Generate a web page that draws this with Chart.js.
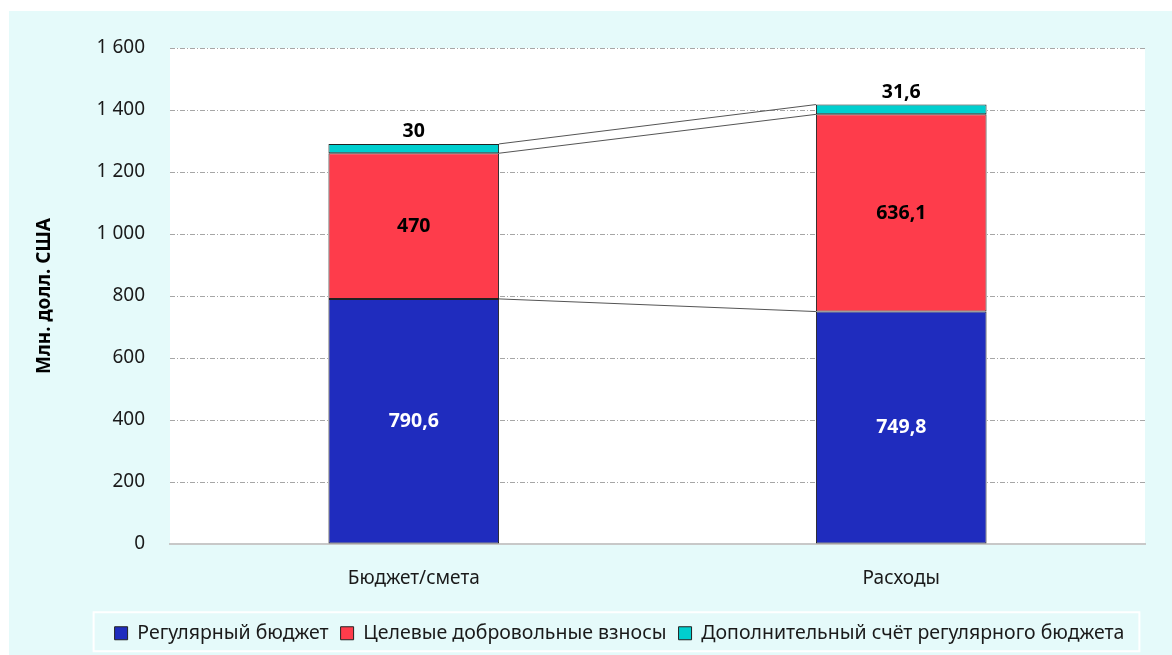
<!DOCTYPE html>
<html>
<head>
<meta charset="utf-8">
<script src="https://cdn.jsdelivr.net/npm/chart.js@4"></script>
<style>
  html, body { margin: 0; padding: 0; background: #ffffff; }
  #c { display: block; }
</style>
</head>
<body>
<canvas id="c" width="1172" height="655"></canvas>
<script>
// ---- data ----
const categories = ['Бюджет/смета', 'Расходы'];
const seriesNames = ['Регулярный бюджет', 'Целевые добровольные взносы', 'Дополнительный счёт регулярного бюджета'];
const regularBudget = [790.6, 749.8];
const voluntaryContrib = [470, 636.1];
const supplementaryAccount = [30, 31.6];
const yTickValues = [0, 200, 400, 600, 800, 1000, 1200, 1400, 1600];
const yAxisTitle = 'Млн. долл. США';

// ---- styles ----
const W = 1172, H = 655;
const FONT = "'Noto Sans', 'Open Sans', sans-serif";
const colors = ['#1F2CBE', '#FE3C4B', '#00CFCF'];
const PANEL = '#E5FAFA';
const TEXT = '#1a1a1a';
Chart.defaults.font.family = FONT;

const fmtTick = v => String(v).replace(/\B(?=(\d{3})+(?!\d))/g, ' ');
const fmtVal = v => String(v).replace('.', ',');

const PAD_LEFT = 94;
const PAD_BOTTOM = 2;
const LEGEND_FONT = 19.5;

const bgPlugin = {
  id: 'bg',
  beforeDraw(chart) {
    const ctx = chart.ctx;
    const a = chart.chartArea;
    ctx.save();
    ctx.fillStyle = '#ffffff';
    ctx.fillRect(0, 0, W, H);
    ctx.fillStyle = PANEL;
    ctx.fillRect(9, 11, W - 9, H - 11);
    ctx.fillStyle = '#ffffff';
    ctx.fillRect(a.left, a.top, a.right - a.left, a.bottom - a.top);
    // legend frame
    const hb = chart.legend && chart.legend.legendHitBoxes;
    if (hb && hb.length) {
      const first = hb[0], last = hb[hb.length - 1];
      const cy = first.top + first.height / 2;
      const x0 = first.left - 21, x1 = last.left + last.width + 15;
      ctx.strokeStyle = '#ffffff';
      ctx.lineWidth = 2;
      ctx.strokeRect(x0, cy - 21, x1 - x0, 39);
    }
    ctx.restore();
  }
};

const connectorPlugin = {
  id: 'connectors',
  afterDatasetsDraw(chart) {
    const ctx = chart.ctx;
    ctx.save();
    ctx.strokeStyle = '#555555';
    ctx.lineWidth = 1;
    chart.data.datasets.forEach((ds, di) => {
      const meta = chart.getDatasetMeta(di);
      const b0 = meta.data[0], b1 = meta.data[1];
      ctx.beginPath();
      ctx.moveTo(b0.x + b0.width / 2, b0.y);
      ctx.lineTo(b1.x - b1.width / 2, b1.y);
      ctx.stroke();
    });
    ctx.restore();
  }
};

const labelPlugin = {
  id: 'valueLabels',
  afterDatasetsDraw(chart) {
    const ctx = chart.ctx;
    ctx.save();
    ctx.font = 'bold 19.5px ' + FONT;
    ctx.textAlign = 'center';
    ctx.textBaseline = 'middle';
    chart.data.datasets.forEach((ds, di) => {
      const meta = chart.getDatasetMeta(di);
      meta.data.forEach((bar, i) => {
        const txt = fmtVal(ds.data[i]);
        let y;
        if (di === 2) {
          y = bar.y - 12;
          ctx.fillStyle = '#000000';
        } else {
          y = (bar.y + bar.base) / 2;
          ctx.fillStyle = di === 0 ? '#ffffff' : '#000000';
        }
        ctx.fillText(txt, bar.x, y);
      });
    });
    ctx.restore();
  }
};

const seriesData = [regularBudget, voluntaryContrib, supplementaryAccount];

new Chart(document.getElementById('c'), {
  type: 'bar',
  data: {
    labels: categories,
    datasets: seriesData.map((d, i) => ({
      label: seriesNames[i],
      data: d,
      backgroundColor: colors[i],
      borderColor: '#222222',
      borderWidth: 1,
      borderSkipped: false,
      categoryPercentage: 1.0,
      barPercentage: 0.35
    }))
  },
  options: {
    responsive: false,
    animation: false,
    devicePixelRatio: 1,
    layout: { padding: { left: PAD_LEFT, right: 27, top: 48, bottom: PAD_BOTTOM } },
    plugins: {
      legend: {
        position: 'bottom',
        align: 'center',
        labels: {
          boxWidth: 13,
          boxHeight: 13,
          padding: 12,
          color: TEXT,
          font: { size: LEGEND_FONT, family: FONT }
        }
      },
      tooltip: { enabled: false }
    },
    scales: {
      x: {
        stacked: true,
        grid: { display: false, drawTicks: false },
        border: { display: true, color: '#C8C8C8', width: 2 },
        ticks: { color: TEXT, font: { size: 19, family: FONT }, padding: 23 },
        afterFit(s) {
          const lh = s.chart.legend ? s.chart.legend.height : 40;
          s.height = H - PAD_BOTTOM - lh - 544;
        }
      },
      y: {
        stacked: true,
        min: 0,
        max: 1600,
        afterBuildTicks(s) { s.ticks = yTickValues.map(v => ({ value: v })); },
        ticks: {
          color: TEXT,
          font: { size: 19, family: FONT },
          padding: 25,
          callback: v => fmtTick(v)
        },
        grid: { color: '#A6A6A6', lineWidth: 1, drawTicks: false },
        border: { display: false, dash: [5, 2, 1, 2] },
        title: {
          display: true,
          text: yAxisTitle,
          color: '#000000',
          font: { size: 19, weight: 'bold', family: FONT },
          padding: { top: 45 - PAD_LEFT - 11.4, bottom: 0 }
        },
        afterFit(s) { s.width = 170 - PAD_LEFT; }
      }
    }
  },
  plugins: [bgPlugin, connectorPlugin, labelPlugin]
});
</script>
</body>
</html>
